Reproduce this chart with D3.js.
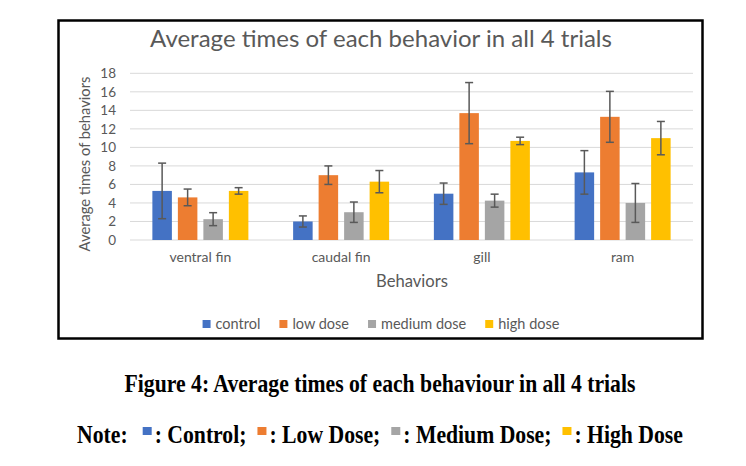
<!DOCTYPE html>
<html>
<head>
<meta charset="utf-8">
<script src="https://cdn.jsdelivr.net/npm/d3@7"></script>
<style>
  html, body { margin: 0; padding: 0; background: #fff; }
  svg { display: block; }
</style>
</head>
<body>
<svg id="chart" width="746" height="466"></svg>
<script>
// ---- data ----
const categories = ["ventral fin", "caudal fin", "gill", "ram"];
const seriesNames = ["control", "low dose", "medium dose", "high dose"];
const noteLabels = ["Control", "Low Dose", "Medium Dose", "High Dose"];
const control = [5.3, 2.0, 5.0, 7.3];
const lowDose = [4.6, 7.0, 13.7, 13.3];
const mediumDose = [2.25, 3.0, 4.25, 4.0];
const highDose = [5.3, 6.3, 10.7, 11.0];
const controlErr = [3.0, 0.6, 1.15, 2.35];
const lowDoseErr = [0.9, 1.0, 3.3, 2.75];
const mediumDoseErr = [0.7, 1.1, 0.7, 2.1];
const highDoseErr = [0.35, 1.2, 0.4, 1.8];
const yTicks = [0, 2, 4, 6, 8, 10, 12, 14, 16, 18];
const titleText = "Average times of each behavior in all 4 trials";
const yTitle = "Average times of behaviors";
const xTitle = "Behaviors";
const captionText = "Figure 4: Average times of each behaviour in all 4 trials";

// ---- styles ----
const colors = ["#4472C4", "#ED7D31", "#A5A5A5", "#FFC000"];
const txt = "#595959";
const font = "Lato, 'Open Sans', sans-serif";
const serif = "'Liberation Serif', 'Times New Roman', serif";

const values = [control, lowDose, mediumDose, highDose];
const errs = [controlErr, lowDoseErr, mediumDoseErr, highDoseErr];
const rows = [];
categories.forEach((c, i) => seriesNames.forEach((s, j) => rows.push({cat: c, ser: s, v: values[j][i], e: errs[j][i], k: j})));

const svg = d3.select("#chart");

function fit(sel, w) {
  sel.attr("font-size", 100);
  const l = sel.node().getComputedTextLength();
  sel.attr("font-size", 100 * w / l);
  return sel;
}

// frame
svg.append("rect").attr("x", 58.5).attr("y", 20.5).attr("width", 644).attr("height", 318)
  .attr("fill", "none").attr("stroke", "#000").attr("stroke-width", 2.5);

const plot = {left: 130, right: 693, top: 73.3, bottom: 240};
const x = d3.scaleBand().domain(categories).range([plot.left, plot.right]).padding(0);
const xi = d3.scaleBand().domain(seriesNames).range([-48, 48]).paddingInner(0.235).paddingOuter(0);
const y = d3.scaleLinear().domain([0, 18]).range([plot.bottom, plot.top]);

// gridlines
svg.append("g").selectAll("line").data(yTicks).join("line")
  .attr("x1", plot.left).attr("x2", plot.right)
  .attr("y1", d => y(d)).attr("y2", d => y(d))
  .attr("stroke", "#D9D9D9").attr("stroke-width", 1);

// y axis labels
const yAxis = d3.axisLeft(y).tickValues(yTicks).tickSize(0).tickPadding(0);
const ya = svg.append("g").attr("transform", `translate(116,0)`).call(yAxis);
ya.select(".domain").remove();
ya.selectAll("text").attr("fill", txt).attr("font-family", font).attr("font-size", 13.5);

// bars
const cx = d => x(d.cat) + x.bandwidth() / 2 + xi(d.ser);
svg.append("g").selectAll("rect").data(rows).join("rect")
  .attr("x", d => cx(d)).attr("width", xi.bandwidth())
  .attr("y", d => y(d.v)).attr("height", d => y(0) - y(d.v))
  .attr("fill", d => colors[d.k]);

// error bars
const eg = svg.append("g").attr("stroke", "#595959").attr("stroke-width", 1.5);
const mid = d => cx(d) + xi.bandwidth() / 2;
eg.selectAll("line.v").data(rows).join("line").attr("class", "v")
  .attr("x1", mid).attr("x2", mid).attr("y1", d => y(d.v + d.e)).attr("y2", d => y(d.v - d.e));
eg.selectAll("line.t").data(rows).join("line").attr("class", "t")
  .attr("x1", d => mid(d) - 4).attr("x2", d => mid(d) + 4).attr("y1", d => y(d.v + d.e)).attr("y2", d => y(d.v + d.e));
eg.selectAll("line.b").data(rows).join("line").attr("class", "b")
  .attr("x1", d => mid(d) - 4).attr("x2", d => mid(d) + 4).attr("y1", d => y(d.v - d.e)).attr("y2", d => y(d.v - d.e));

// x axis labels
const xAxis = d3.axisBottom(x).tickSize(0).tickPadding(0);
const xa = svg.append("g").attr("transform", `translate(0,252)`).call(xAxis);
xa.select(".domain").remove();
xa.selectAll("text").attr("fill", txt).attr("font-family", font).attr("font-size", 14).attr("dy", "0.71em");

// title
fit(svg.append("text").attr("x", 381).attr("y", 47).attr("text-anchor", "middle")
  .attr("fill", txt).attr("font-family", font).text(titleText), 462);

// y title
fit(svg.append("text").attr("transform", "translate(90,164) rotate(-90)").attr("text-anchor", "middle")
  .attr("fill", txt).attr("font-family", font).text(yTitle), 175);

// x title
fit(svg.append("text").attr("x", 412).attr("y", 287).attr("text-anchor", "middle")
  .attr("fill", txt).attr("font-family", font).text(xTitle), 72);

// legend
const lg = svg.append("g");
let lx = 0;
seriesNames.forEach((s, k) => {
  const g = lg.append("g");
  g.append("rect").attr("x", lx).attr("y", 320).attr("width", 8).attr("height", 8).attr("fill", colors[k]);
  const t = g.append("text").attr("x", lx + 13).attr("y", 328.5).attr("fill", txt)
    .attr("font-family", font).attr("font-size", 14.5).text(s);
  lx += 13 + t.node().getComputedTextLength() + 19;
});
const lw = lx - 19;
lg.attr("transform", `translate(${381 - lw / 2},0)`);

// caption (vertically stretched like the reference rendering)
const capG = svg.append("g").attr("transform", "translate(0,391.5) scale(1,1.2)");
const cap = fit(capG.append("text").attr("x", 380).attr("y", 0).attr("text-anchor", "middle")
  .attr("font-family", serif).attr("font-weight", "bold").attr("fill", "#000").text(captionText), 511);
const fs = +cap.attr("font-size");

// note line
const ng = svg.append("g");
let nx = 0;
const addText = s => {
  const t = ng.append("text").attr("x", nx).attr("y", 443.5).attr("font-family", serif)
    .attr("font-weight", "bold").attr("font-size", fs).attr("fill", "#000")
    .attr("transform", "translate(0,443.5) scale(1,1.18) translate(0,-443.5)").text(s);
  nx += t.node().getComputedTextLength();
};
addText("Note:");
noteLabels.forEach((n, k) => {
  nx += (k === 0 ? 15 : 11);
  ng.append("rect").attr("x", nx).attr("y", 427).attr("width", 9).attr("height", 8).attr("fill", colors[k]);
  nx += 12;
  addText(": " + n + (k < 3 ? ";" : ""));
});
ng.attr("transform", `translate(${380 - nx / 2},0)`);
</script>
</body>
</html>
